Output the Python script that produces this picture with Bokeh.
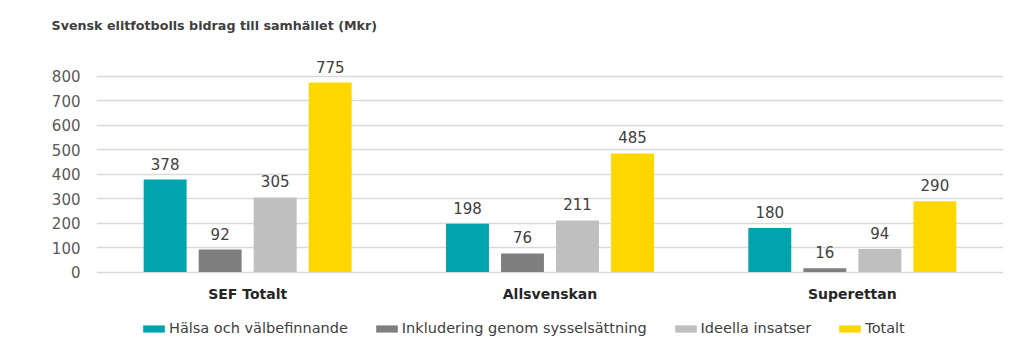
from bokeh.plotting import figure
from bokeh.models import ColumnDataSource, FactorRange, Legend, LegendItem, LabelSet, Title
from bokeh.core.properties import value
from bokeh.transform import dodge
from bokeh.embed import file_html
from bokeh.resources import INLINE

categories = ["SEF Totalt", "Allsvenskan", "Superettan"]
series_names = ["Hälsa och välbefinnande", "Inkludering genom sysselsättning", "Ideella insatser", "Totalt"]
halsa = [378, 198, 180]
inkludering = [92, 76, 16]
ideella = [305, 211, 94]
totalt = [775, 485, 290]
y_ticks = [0, 100, 200, 300, 400, 500, 600, 700, 800]
colors = ["#00A3AE", "#7F7F7F", "#BFBFBF", "#FFD700"]
title_text = "Svensk elitfotbolls bidrag till samhället (Mkr)"

FONT = "DejaVu Sans"

source = ColumnDataSource(dict(cat=categories, zero=[0] * len(categories),
                               halsa=halsa, inkludering=inkludering,
                               ideella=ideella, totalt=totalt,
                               halsa_l=[str(v) for v in halsa],
                               inkludering_l=[str(v) for v in inkludering],
                               ideella_l=[str(v) for v in ideella],
                               totalt_l=[str(v) for v in totalt]))

p = figure(width=1022, height=354, x_range=FactorRange(*categories, range_padding=0),
           y_range=(-337, 914), output_backend="svg", toolbar_location=None,
           x_axis_location=None,
           min_border_left=96, min_border_right=19, min_border_top=46, min_border_bottom=0)
p.outline_line_color = None
p.background_fill_color = "white"

keys = ["halsa", "inkludering", "ideella", "totalt"]
offsets = [-0.273, -0.091, 0.091, 0.273]
renderers = []
for k, off, c in zip(keys, offsets, colors):
    r = p.vbar(x=dodge("cat", off, range=p.x_range), top=k, width=0.142, source=source,
               fill_color=c, line_color=None)
    renderers.append(r)
    lbl = LabelSet(x=dodge("cat", off, range=p.x_range), y=k, text=k + "_l", source=source,
                   text_align="center", text_baseline="middle", y_offset=16,
                   text_font=value(FONT), text_font_size=value("15px"), text_color="#404040")
    p.add_layout(lbl)

cat_labels = LabelSet(x="cat", y="zero", text="cat", source=source,
                      text_align="center", text_baseline="middle", y_offset=-22,
                      text_font=value(FONT), text_font_size=value("14px"),
                      text_font_style="bold", text_color="#262626")
p.add_layout(cat_labels)

p.xgrid.grid_line_color = None
p.ygrid.grid_line_color = "#D9D9D9"
p.ygrid.grid_line_width = 1.5
p.yaxis.ticker = y_ticks
p.yaxis.axis_line_color = None
p.yaxis.major_tick_line_color = None
p.yaxis.minor_tick_line_color = None
p.yaxis.major_tick_out = 0
p.yaxis.major_tick_in = 0
p.yaxis.major_label_text_font = FONT
p.yaxis.major_label_text_font_size = "15px"
p.yaxis.major_label_text_color = "#595959"
p.yaxis.major_label_standoff = 16

legend = Legend(items=[LegendItem(label=n, renderers=[r]) for n, r in zip(series_names, renderers)],
                orientation="horizontal", location=(44, 16),
                label_text_font=FONT, label_text_font_size="14.5px", label_text_color="#404040",
                glyph_width=27, glyph_height=9, label_standoff=2, spacing=25,
                label_height=20, padding=0, margin=0, border_line_color=None,
                background_fill_alpha=0)
p.add_layout(legend, "center")

title = Title(text=title_text, text_font=FONT, text_font_size="12.7px", align="left",
              text_font_style="bold", text_color="#404040", offset=-45, standoff=31)
p.add_layout(title, "above")

open("out.html", "w").write(file_html(p, INLINE))
